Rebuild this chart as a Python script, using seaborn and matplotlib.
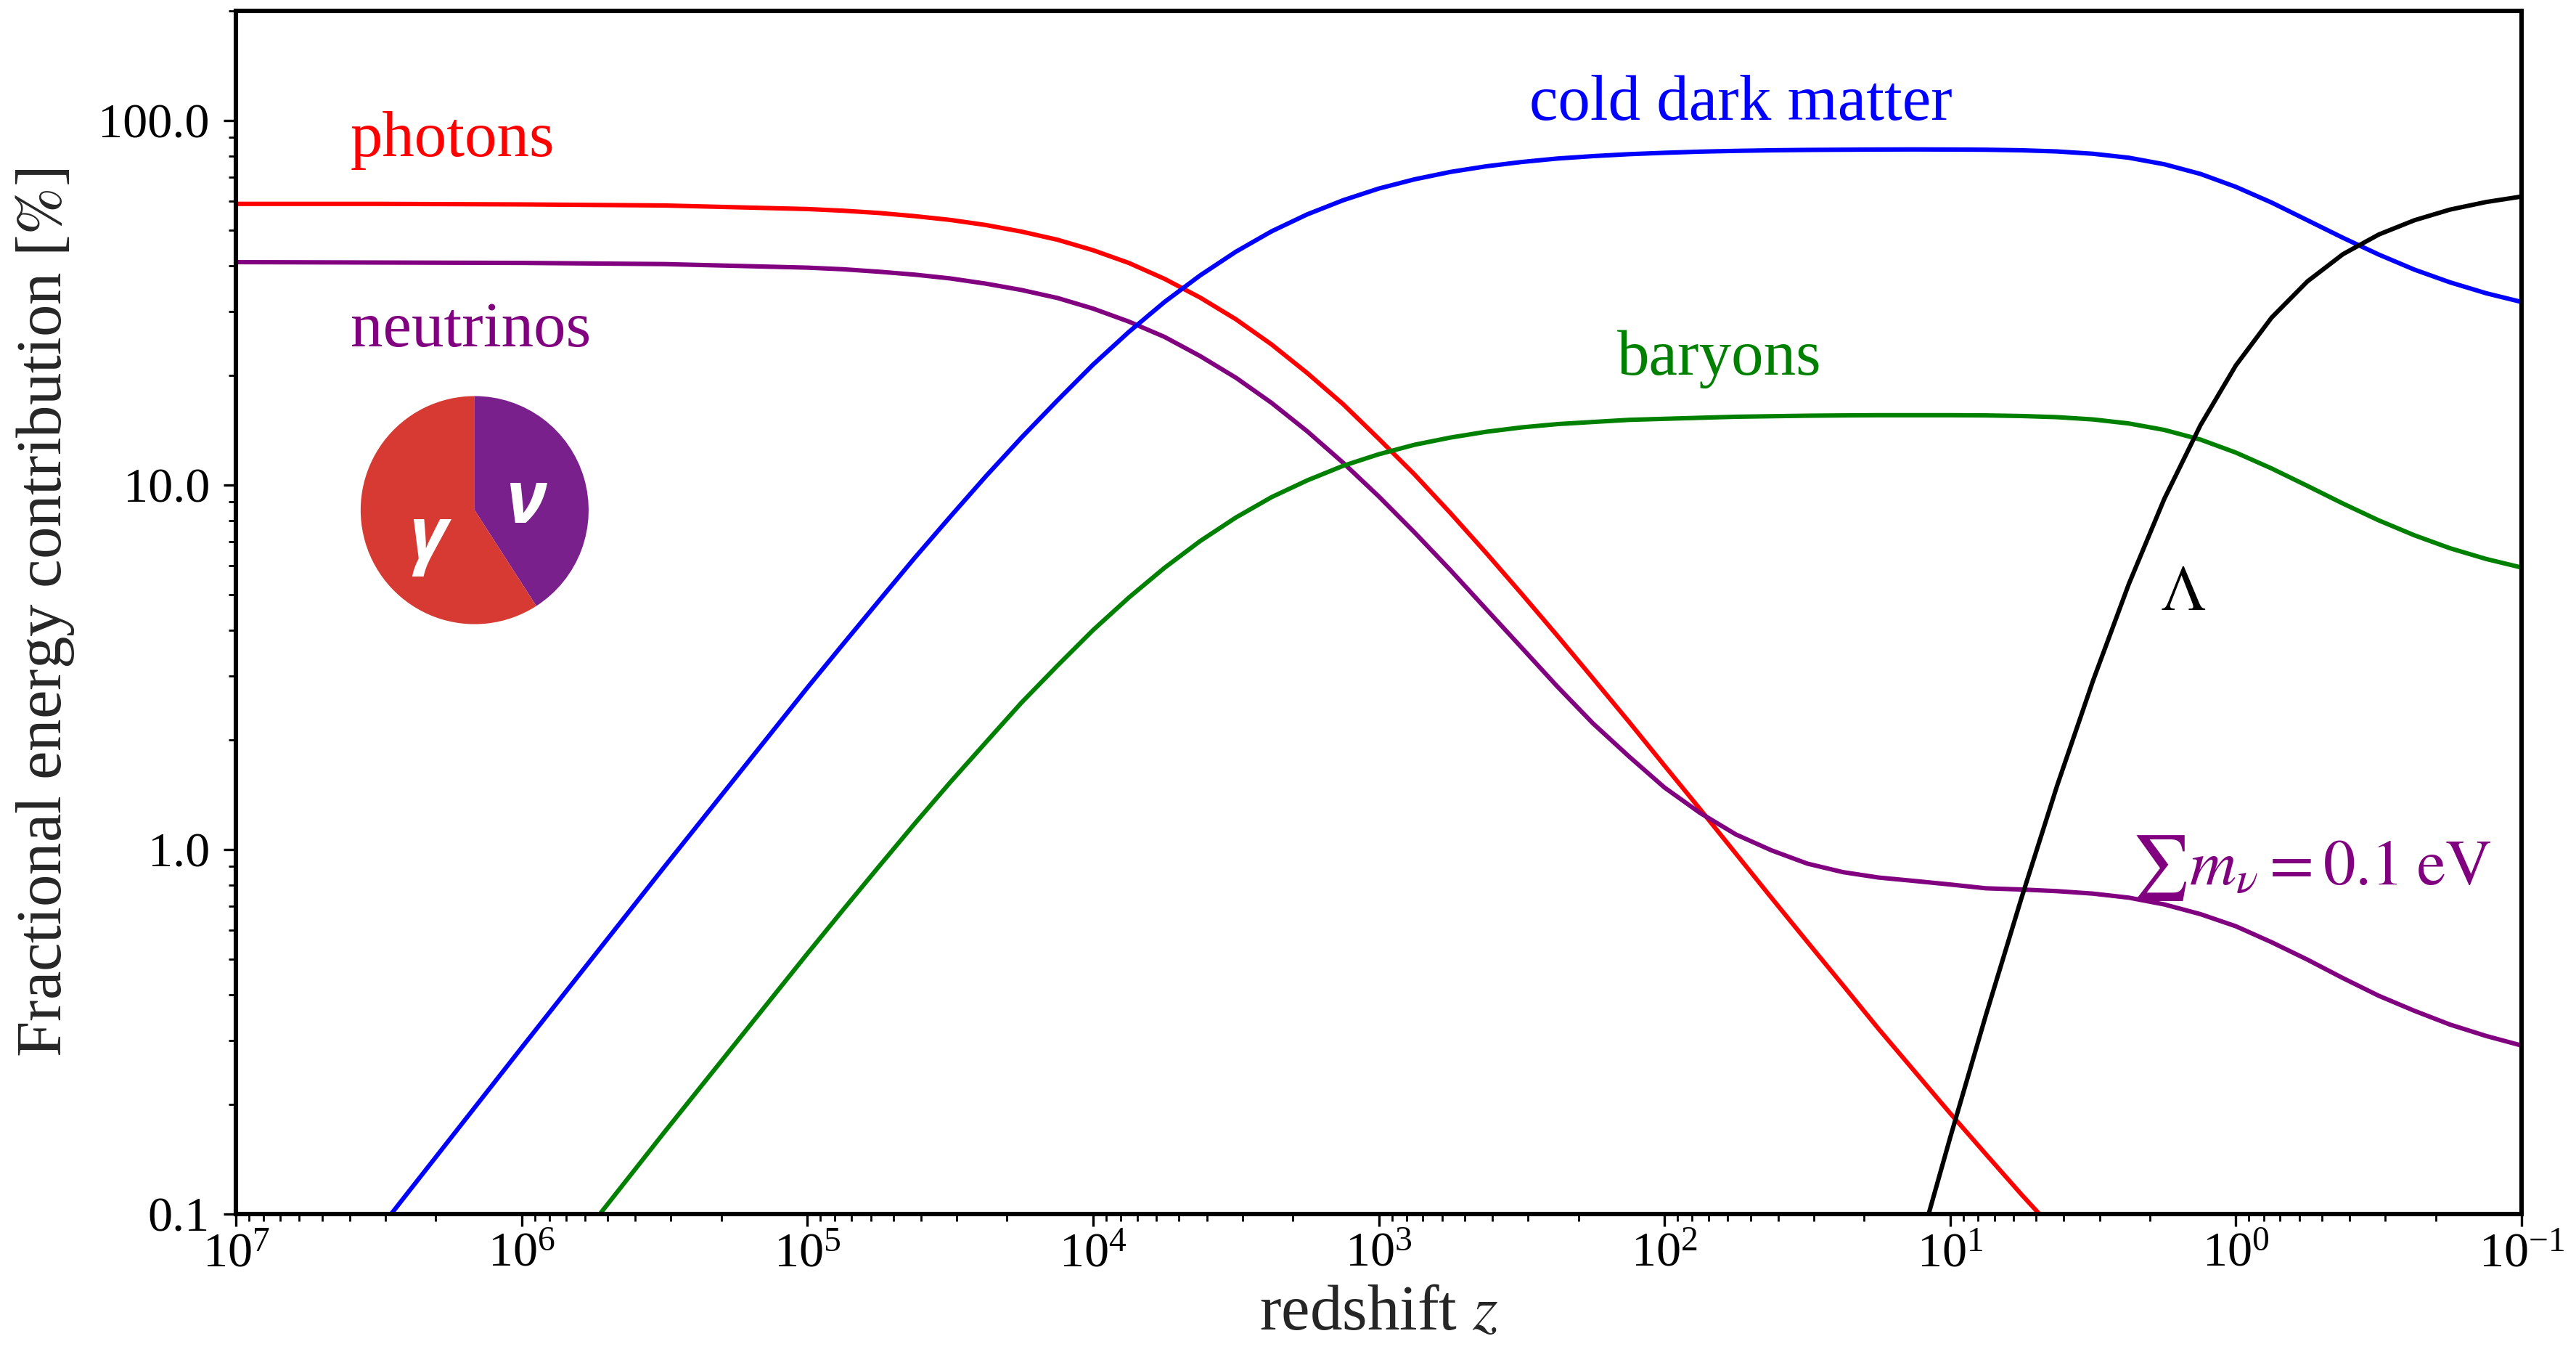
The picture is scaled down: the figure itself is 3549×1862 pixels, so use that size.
import matplotlib
matplotlib.use("Agg")
import matplotlib.pyplot as plt
import numpy as np
import pandas as pd
import seaborn as sns
from matplotlib.ticker import LogLocator, LogFormatterMathtext, FixedLocator, FormatStrFormatter, NullFormatter

# ---------------- data ----------------
redshift = [1e7, 3.16e6, 1e6, 3.16e5,
            1e5, 7.50e4, 5.62e4, 4.22e4, 3.16e4, 2.37e4, 1.78e4, 1.33e4,
            1e4, 7500, 5620, 4220, 3160, 2370, 1780, 1330,
            1000, 750, 562, 422, 316, 237, 178, 133,
            100, 75.0, 56.2, 42.2, 31.6, 23.7, 17.8, 13.3,
            10, 7.50, 5.62, 4.22, 3.16, 2.37, 1.78, 1.33,
            1.0, 0.750, 0.562, 0.422, 0.316, 0.237, 0.178, 0.133, 0.1]

photons = [59.1, 59.1, 58.9, 58.5,
           57.2, 56.6, 55.8, 54.7, 53.4, 51.7, 49.6, 47.1,
           44.1, 40.7, 36.8, 32.7, 28.5, 24.3, 20.3, 16.65,
           13.4, 10.7, 8.39, 6.53, 5.03, 3.86, 2.95, 2.24,
           1.70, 1.29, 0.974, 0.737, 0.558, 0.424, 0.322, 0.246,
           0.189, 0.146, 0.113, 0.0885, None, None, None, None,
           None, None, None, None, None, None, None, None, None]

neutrinos = [40.9, 40.8, 40.7, 40.4,
             39.5, 39.1, 38.5, 37.8, 36.9, 35.7, 34.3, 32.6,
             30.5, 28.1, 25.5, 22.6, 19.7, 16.8, 14.05, 11.5,
             9.31, 7.42, 5.85, 4.58, 3.58, 2.80, 2.22, 1.80,
             1.48, 1.26, 1.10, 0.995, 0.915, 0.867, 0.838, 0.820,
             0.802, 0.783, 0.777, 0.769, 0.757, 0.738, 0.707, 0.665,
             0.616, 0.557, 0.499, 0.444, 0.397, 0.361, 0.331, 0.308, 0.290]

cdm = [0.0287, 0.0906, 0.286, 0.898,
       2.78, 3.66, 4.81, 6.30, 8.19, 10.58, 13.5, 17.1,
       21.4, 26.3, 31.8, 37.6, 43.7, 49.7, 55.3, 60.5,
       65.1, 69.0, 72.3, 74.9, 77.0, 78.7, 79.9, 80.9,
       81.6, 82.2, 82.6, 82.9, 83.1, 83.2, 83.3, 83.35,
       83.3, 83.2, 82.9, 82.3, 81.1, 79.1, 75.9, 71.4,
       65.8, 59.6, 53.3, 47.7, 42.9, 39.0, 36.0, 33.6, 31.8]

baryons = [0.00535, 0.0169, 0.0534, 0.168,
           0.518, 0.683, 0.898, 1.175, 1.53, 1.97, 2.53, 3.20,
           4.00, 4.91, 5.93, 7.02, 8.15, 9.27, 10.3, 11.3,
           12.15, 12.9, 13.5, 14.0, 14.4, 14.7, 14.9, 15.1,
           15.2, 15.3, 15.4, 15.45, 15.5, 15.53, 15.55, 15.55,
           15.55, 15.53, 15.47, 15.36, 15.14, 14.76, 14.17, 13.33,
           12.28, 11.11, 9.95, 8.90, 8.00, 7.28, 6.71, 6.27, 5.94]

dark_energy = [None, None, None, None,
               None, None, None, None, None, None, None, None,
               None, None, None, None, None, None, None, None,
               None, None, None, None, None, None, None, None,
               None, None, None, None, None, None, 0.0326, 0.0733,
               0.162, 0.351, 0.739, 1.50, 2.91, 5.35, 9.17, 14.6,
               21.3, 28.8, 36.2, 43.0, 48.7, 53.3, 57.0, 59.8, 61.9]

components = ["photons", "neutrinos", "cold dark matter", "baryons", "Lambda"]
series = [photons, neutrinos, cdm, baryons, dark_energy]
colors = {"photons": "red", "neutrinos": "purple", "cold dark matter": "blue",
          "baryons": "green", "Lambda": "black"}

rows = []
for name, vals in zip(components, series):
    for z, v in zip(redshift, vals):
        if v is not None:
            rows.append({"z": z, "pct": v, "component": name})
df = pd.DataFrame(rows)

# ---------------- style ----------------
sns.set_theme(style="white")
plt.rcParams["font.family"] = ["Liberation Serif", "DejaVu Serif"]
plt.rcParams["mathtext.fontset"] = "stix"

DPI = 200
fig = plt.figure(figsize=(3549 / DPI, 1862 / DPI), dpi=DPI)
ax = fig.add_axes([0.09158, 0.10204, 0.88729, 0.88990])
ax.set(xscale="log", yscale="log")

sns.lineplot(data=df, x="z", y="pct", hue="component", hue_order=components,
             palette=colors, legend=False, estimator=None, linewidth=2.2, ax=ax)

ax.set_xlim(1e7, 1e-1)
ax.set_ylim(0.1, 200)

ax.xaxis.set_major_locator(LogLocator(base=10, numticks=20))
ax.xaxis.set_minor_locator(LogLocator(base=10, subs=np.arange(2, 10), numticks=20))
ax.xaxis.set_major_formatter(LogFormatterMathtext())
ax.xaxis.set_minor_formatter(NullFormatter())
ax.yaxis.set_major_locator(FixedLocator([0.1, 1, 10, 100]))
ax.yaxis.set_minor_locator(LogLocator(base=10, subs=np.arange(2, 10), numticks=20))
ax.yaxis.set_major_formatter(FormatStrFormatter("%.1f"))
ax.yaxis.set_minor_formatter(NullFormatter())

ax.tick_params(which="both", direction="out", bottom=True, left=True, top=False, right=False,
               colors="black", labelsize=24.5)
ax.tick_params(which="major", length=6, width=1.2)
ax.tick_params(which="minor", length=3.5, width=1.0)
ax.tick_params(axis="y", which="major", pad=7)
ax.tick_params(axis="x", which="major", pad=3)

for sp in ax.spines.values():
    sp.set_visible(True)
    sp.set_color("black")
    sp.set_linewidth(2.2)

ax.set_xlabel(r"redshift $z$", fontsize=32, labelpad=4)
ax.set_ylabel(r"Fractional energy contribution [$\%$]", fontsize=32, labelpad=11)

# ---------------- annotations ----------------
fs = 32
ax.text(0.0502, 0.8793, "photons", color="red", fontsize=fs, transform=ax.transAxes, va="baseline")
ax.text(0.0502, 0.7212, "neutrinos", color="purple", fontsize=fs, transform=ax.transAxes, va="baseline")
ax.text(0.5659, 0.9095, "cold dark matter", color="blue", fontsize=fs, transform=ax.transAxes, va="baseline")
ax.text(0.6043, 0.6977, "baryons", color="green", fontsize=fs, transform=ax.transAxes, va="baseline")
ax.text(0.8419, 0.5021, r"$\Lambda$", color="black", fontsize=fs, transform=ax.transAxes, va="baseline")
ax.text(0.9867, 0.2740, r"$\sum m_\nu = 0.1\;\mathrm{eV}$", color="purple", fontsize=fs,
        transform=ax.transAxes, va="baseline", ha="right")

# ---------------- inset pie (early-universe radiation split) ----------------
pax = fig.add_axes([0.1400, 0.5381, 0.0885, 0.1692])
pax.pie([neutrinos[0], photons[0]], colors=["#7A208C", "#D63A32"], startangle=90,
        counterclock=False, wedgeprops=dict(linewidth=0))
pax.set_xlim(-1, 1)
pax.set_ylim(-1, 1)
pax.set_aspect("equal")
pax.axis("off")
pax.text(-0.41, -0.26, "γ", color="white", fontsize=36, fontweight="bold", fontstyle="italic",
         family="Open Sans", ha="center", va="center")
pax.text(0.45, 0.06, "ν", color="white", fontsize=36, fontweight="bold", fontstyle="italic",
         family="Open Sans", ha="center", va="center")

fig.savefig("out.png", dpi=DPI)
